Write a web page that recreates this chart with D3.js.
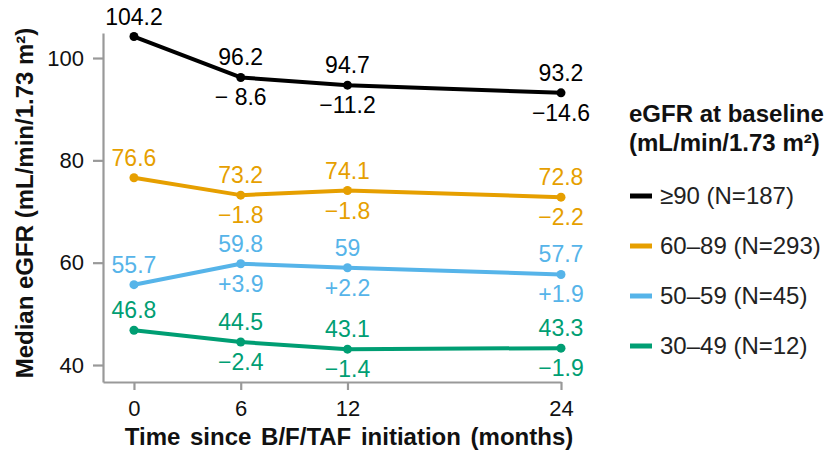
<!DOCTYPE html>
<html><head><meta charset="utf-8">
<script src="https://cdn.jsdelivr.net/npm/d3@7"></script>
<style>body{margin:0;background:#fff;} text{font-family:"Liberation Sans",Arial,sans-serif;}</style>
</head><body>
<svg id="c" width="835" height="456"></svg>
<script>
const months = [0, 6, 12, 24];
const groups = ["≥90 (N=187)", "60–89 (N=293)", "50–59 (N=45)", "30–49 (N=12)"];
const colors = ["#000000", "#E69F00", "#56B4E9", "#009E73"];
const medians = [
  [104.2, 96.2, 94.7, 93.2],
  [76.6, 73.2, 74.1, 72.8],
  [55.7, 59.8, 59, 57.7],
  [46.8, 44.5, 43.1, 43.3]
];
const changes = [
  [null, "− 8.6", "−11.2", "−14.6"],
  [null, "−1.8", "−1.8", "−2.2"],
  [null, "+3.9", "+2.2", "+1.9"],
  [null, "−2.4", "−1.4", "−1.9"]
];
const medianLabels = [
  ["104.2", "96.2", "94.7", "93.2"],
  ["76.6", "73.2", "74.1", "72.8"],
  ["55.7", "59.8", "59", "57.7"],
  ["46.8", "44.5", "43.1", "43.3"]
];
const yTicks = [40, 60, 80, 100];
const xTicks = [0, 6, 12, 24];

const svg = d3.select("#c");
const x = d3.scaleLinear().domain([-1.74, 24]).range([103, 561]);
const y = d3.scaleLinear().domain([36.68, 104.89]).range([382, 33]);

const axisColor = "#999999";
const gx = svg.append("g").attr("transform", "translate(0,382)")
  .call(d3.axisBottom(x).tickValues(xTicks).tickSize(8).tickPadding(10).tickSizeOuter(0));
const gy = svg.append("g").attr("transform", "translate(103,0)")
  .call(d3.axisLeft(y).tickValues(yTicks).tickSize(10).tickPadding(9).tickSizeOuter(0));
[gx, gy].forEach(g => {
  g.select(".domain").attr("stroke", axisColor).attr("stroke-width", 2.2);
  g.selectAll(".tick line").attr("stroke", axisColor).attr("stroke-width", 2.2);
  g.selectAll(".tick text").attr("fill", "#111").style("font-size", "22px").style("font-family", '"Liberation Sans",Arial,sans-serif');
});

const line = d3.line().x((d, i) => x(months[i])).y(d => y(d));
medians.forEach((vals, s) => {
  const g = svg.append("g");
  g.append("path").datum(vals).attr("d", line).attr("fill", "none")
    .attr("stroke", colors[s]).attr("stroke-width", 4).attr("stroke-linejoin", "round");
  g.selectAll("circle").data(vals).join("circle")
    .attr("cx", (d, i) => x(months[i])).attr("cy", d => y(d)).attr("r", 4.5).attr("fill", colors[s]);
  g.selectAll("text.v").data(vals).join("text").attr("class", "v")
    .attr("x", (d, i) => x(months[i])).attr("y", d => y(d) - 12)
    .attr("text-anchor", "middle").attr("fill", colors[s]).style("font-size", "23px")
    .text((d, i) => medianLabels[s][i]);
  g.selectAll("text.c").data(vals).join("text").attr("class", "c")
    .attr("x", (d, i) => x(months[i])).attr("y", d => y(d) + 28)
    .attr("text-anchor", "middle").attr("fill", colors[s]).style("font-size", "23px")
    .text((d, i) => changes[s][i] || "");
});

svg.append("text").attr("x", 349).attr("y", 445).attr("text-anchor", "middle")
  .style("font-size", "24px").style("font-weight", "bold").style("word-spacing", "3px").attr("fill", "#111")
  .text("Time since B/F/TAF initiation (months)");
svg.append("text").attr("transform", "translate(33,203) rotate(-90)").attr("text-anchor", "middle")
  .style("font-size", "24px").style("font-weight", "bold").attr("fill", "#111")
  .text("Median eGFR (mL/min/1.73 m²)");

const lg = svg.append("g").attr("transform", "translate(629,0)");
lg.append("text").attr("x", 0).attr("y", 122).style("font-size", "24px").style("font-weight", "bold").attr("fill", "#111").text("eGFR at baseline");
lg.append("text").attr("x", 0).attr("y", 151).style("font-size", "24px").style("font-weight", "bold").attr("fill", "#111").text("(mL/min/1.73 m²)");
groups.forEach((name, i) => {
  const cy = 196 + i * 50;
  lg.append("line").attr("x1", 1).attr("x2", 23).attr("y1", cy).attr("y2", cy)
    .attr("stroke", colors[i]).attr("stroke-width", 5);
  lg.append("text").attr("x", 31).attr("y", cy + 8).style("font-size", "24px").attr("fill", "#222").text(name);
});
</script>
</body></html>
